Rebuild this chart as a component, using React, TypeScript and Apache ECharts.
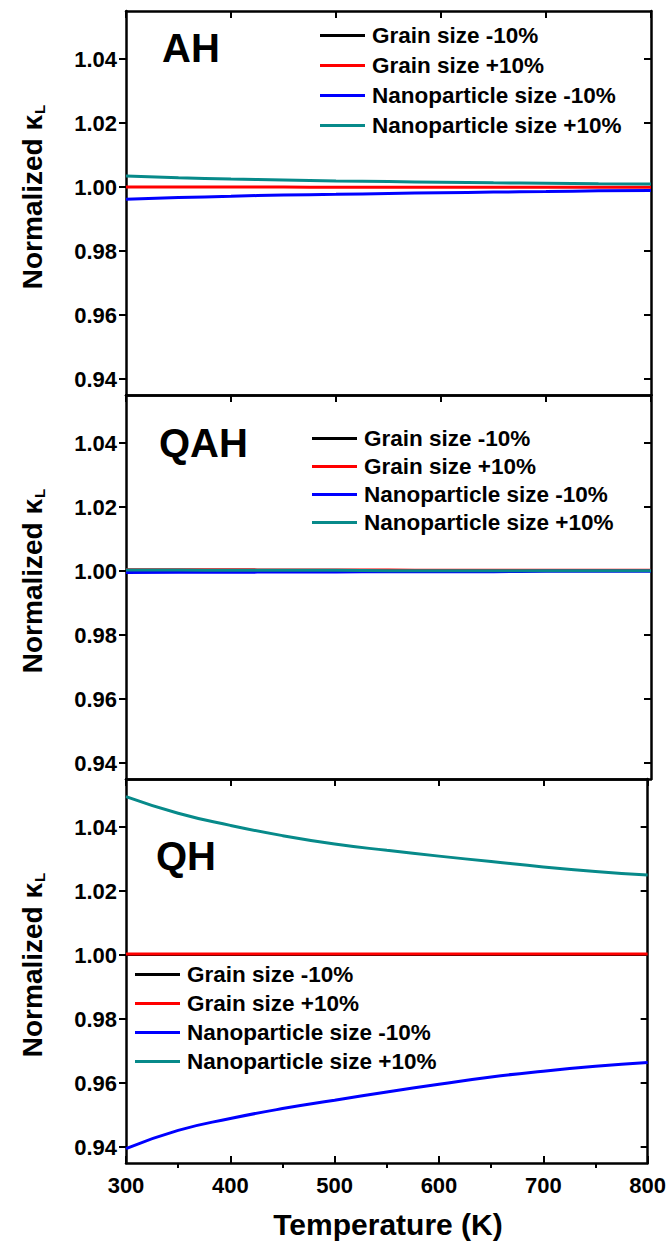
import React, { useEffect, useRef } from "react";
import * as echarts from "echarts";

const temps = [300, 350, 400, 450, 500, 550, 600, 650, 700, 750, 800];
const seriesNames = ["Grain size -10%", "Grain size +10%", "Nanoparticle size -10%", "Nanoparticle size +10%"];
const seriesColors = ["#000000", "#ff0000", "#0000ff", "#078a8a"];
const panelLabels = ["AH", "QAH", "QH"];
const yTicks = [0.94, 0.96, 0.98, 1.0, 1.02, 1.04];

// AH
const ahGrainMinus = [1.0, 1.0, 1.0, 1.0, 1.0, 1.0, 1.0, 1.0, 1.0, 1.0, 1.0];
const ahGrainPlus = [1.0, 1.0, 1.0, 1.0, 0.9999, 0.9999, 0.9999, 0.9999, 0.9999, 0.9999, 0.9999];
const ahNanoMinus = [0.9962, 0.9967, 0.9971, 0.9975, 0.9977, 0.998, 0.9982, 0.9984, 0.9986, 0.9988, 0.9989];
const ahNanoPlus = [1.0034, 1.0029, 1.0025, 1.0022, 1.0019, 1.0017, 1.0015, 1.0013, 1.0012, 1.001, 1.0009];
// QAH
const qahGrainMinus = [1.0, 1.0, 1.0, 1.0, 1.0, 1.0, 1.0, 1.0, 1.0, 1.0, 1.0];
const qahGrainPlus = [1.0004, 1.0004, 1.0004, 1.0003, 1.0003, 1.0003, 1.0002, 1.0002, 1.0002, 1.0002, 1.0002];
const qahNanoMinus = [0.9995, 0.9996, 0.9996, 0.9997, 0.9997, 0.9998, 0.9998, 0.9998, 0.9999, 0.9999, 0.9999];
const qahNanoPlus = [1.0003, 1.0003, 1.0002, 1.0002, 1.0002, 1.0001, 1.0001, 1.0001, 1.0001, 1.0001, 1.0001];
// QH
const qhGrainMinus = [1.0, 1.0, 1.0, 1.0, 1.0, 1.0, 1.0, 1.0, 1.0, 1.0, 1.0];
const qhGrainPlus = [1.0003, 1.0003, 1.0003, 1.0003, 1.0003, 1.0003, 1.0003, 1.0003, 1.0003, 1.0003, 1.0003];
const qhNanoMinus = [0.9395, 0.9452, 0.9489, 0.952, 0.9546, 0.9572, 0.9596, 0.9619, 0.9637, 0.9652, 0.9664];
const qhNanoPlus = [1.0495, 1.0443, 1.0405, 1.0373, 1.0347, 1.0327, 1.0309, 1.0292, 1.0275, 1.0261, 1.025];

const panels = [
  [ahGrainMinus, ahGrainPlus, ahNanoMinus, ahNanoPlus],
  [qahGrainMinus, qahGrainPlus, qahNanoMinus, qahNanoPlus],
  [qhGrainMinus, qhGrainPlus, qhNanoMinus, qhNanoPlus],
];

const FONT = "'Liberation Sans', Arial, sans-serif";

export default function App() {
  const ref = useRef<HTMLDivElement>(null);
  useEffect(() => {
    if (!ref.current) return;
    const chart = echarts.init(ref.current, null, { renderer: "svg" });
    const gridTops = [11, 395, 779];
    const gridLeft = 126;
    const gridWidth = 525;
    const gridHeight = 384;
    const legendPos = [
      { left: 320, top: 24 },
      { left: 312, top: 427 },
      { left: 135, top: 963 },
    ];
    const legendGaps = [7, 5, 6];
    const labelPos = [
      { x: 162, y: 48 },
      { x: 159, y: 443 },
      { x: 156, y: 856 },
    ];

    const axisLineStyle = { color: "#000", width: 2.5 };
    const grid: any[] = [];
    const xAxis: any[] = [];
    const yAxis: any[] = [];
    const series: any[] = [];
    const legend: any[] = [];
    const graphic: any[] = [];

    gridTops.forEach((top, i) => {
      grid.push({ left: gridLeft, top, width: gridWidth, height: gridHeight, containLabel: false });
      const isLast = i === 2;
      const mainX = xAxis.length;
      xAxis.push({
        gridIndex: i,
        type: "value",
        position: "bottom",
        min: 300,
        max: 800,
        interval: 100,
        axisLine: { show: true, onZero: false, lineStyle: axisLineStyle },
        axisTick: { show: isLast, inside: true, length: 7, lineStyle: { color: "#000", width: 2 } },
        axisLabel: {
          show: isLast,
          margin: 11,
          color: "#000",
          fontSize: 22,
          fontWeight: "bold",
          fontFamily: FONT,
        },
        splitLine: { show: false },
      });
      xAxis.push({
        gridIndex: i,
        type: "value",
        position: "top",
        min: 300,
        max: 800,
        interval: 100,
        axisLine: { show: true, onZero: false, lineStyle: axisLineStyle },
        axisTick: { show: true, inside: true, length: 7, lineStyle: { color: "#000", width: 2 } },
        axisLabel: { show: false },
        splitLine: { show: false },
      });
      if (isLast) {
        xAxis.push({
          gridIndex: i,
          type: "value",
          position: "bottom",
          min: 300,
          max: 800,
          interval: 100,
          axisLine: { show: false, onZero: false },
          axisTick: { show: false, inside: false },
          minorTick: { show: true, splitNumber: 2, length: 5, lineStyle: { color: "#000", width: 2 } },
          axisLabel: { show: false },
          splitLine: { show: false },
        });
      }
      const mainY = yAxis.length;
      yAxis.push({
        gridIndex: i,
        type: "value",
        position: "left",
        min: 0.935,
        max: 1.055,
        axisLine: { show: true, onZero: false, lineStyle: axisLineStyle },
        axisTick: { show: true, inside: false, length: 7, customValues: yTicks, lineStyle: { color: "#000", width: 2 } },
        axisLabel: {
          show: true,
          customValues: yTicks,
          margin: 9,
          color: "#000",
          fontSize: 22,
          fontWeight: "bold",
          fontFamily: FONT,
          formatter: (v: number) => v.toFixed(2),
        },
        splitLine: { show: false },
      });
      yAxis.push({
        gridIndex: i,
        type: "value",
        position: "right",
        min: 0.935,
        max: 1.055,
        axisLine: { show: true, onZero: false, lineStyle: axisLineStyle },
        axisTick: { show: true, inside: true, length: 7, customValues: yTicks, lineStyle: { color: "#000", width: 2 } },
        axisLabel: { show: false },
        splitLine: { show: false },
      });

      panels[i].forEach((vals, k) => {
        series.push({
          type: "line",
          name: seriesNames[k],
          xAxisIndex: mainX,
          yAxisIndex: mainY,
          data: temps.map((t, j) => [t, vals[j]]),
          smooth: true,
          symbol: "none",
          lineStyle: { color: seriesColors[k], width: k === 0 ? 2 : 3 },
          itemStyle: { color: seriesColors[k] },
          z: 2 + k,
        });
      });

      legend.push({
        orient: "vertical",
        left: legendPos[i].left,
        top: legendPos[i].top,
        padding: 0,
        itemGap: legendGaps[i],
        itemWidth: 45,
        itemHeight: 3,
        icon: "rect",
        selectedMode: false,
        data: seriesNames,
        textStyle: { color: "#000", fontSize: 22.5, fontWeight: "bold", fontFamily: FONT, padding: [0, 0, 0, 2] },
      });

      graphic.push({
        type: "text",
        x: labelPos[i].x,
        y: labelPos[i].y,
        style: {
          text: panelLabels[i],
          fill: "#000",
          fontSize: 40,
          fontWeight: "bold",
          fontFamily: FONT,
          align: "left",
          verticalAlign: "middle",
        },
      });
      graphic.push({
        type: "text",
        x: 32,
        y: top + gridHeight / 2 - 6,
        rotation: Math.PI / 2,
        style: {
          text: "{a|Normalized κ}{b|L}",
          align: "center",
          verticalAlign: "middle",
          fill: "#000",
          rich: {
            a: { fontSize: 28, fontWeight: "bold", fontFamily: FONT, fill: "#000" },
            b: { fontSize: 15, fontWeight: "bold", fontFamily: FONT, fill: "#000", padding: [14, 0, 0, 1] },
          },
        },
      });
    });

    graphic.push({
      type: "text",
      x: 388,
      y: 1224,
      style: {
        text: "Temperature (K)",
        fill: "#000",
        fontSize: 30,
        fontWeight: "bold",
        fontFamily: FONT,
        align: "center",
        verticalAlign: "middle",
      },
    });

    chart.setOption({
      animation: false,
      backgroundColor: "#fff",
      grid,
      xAxis,
      yAxis,
      series,
      legend,
      graphic,
    });
    return () => chart.dispose();
  }, []);
  return (
    <div
      ref={ref}
      style={{ position: "fixed", left: 0, top: 0, width: 669, height: 1246, background: "#fff" }}
    />
  );
}
